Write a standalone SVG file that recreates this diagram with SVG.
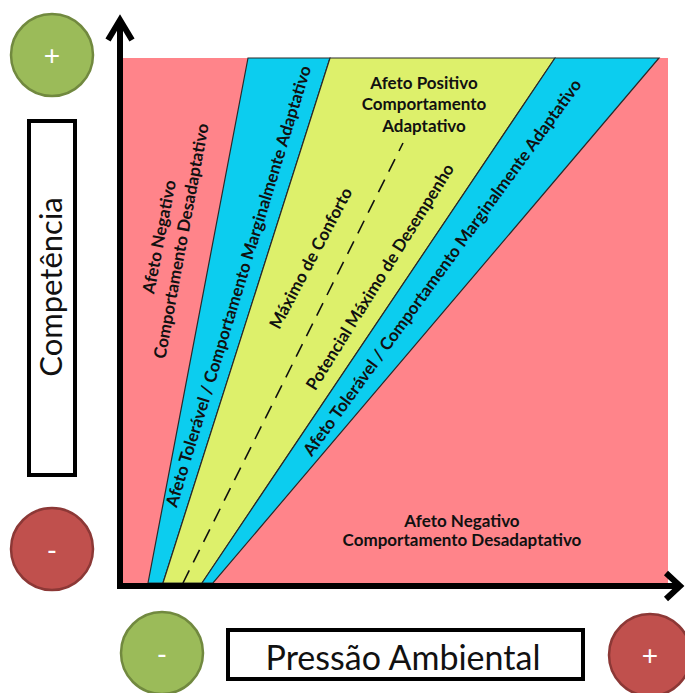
<svg xmlns="http://www.w3.org/2000/svg" width="685" height="693" viewBox="0 0 685 693">
<style>
.band{stroke:#2a2a2a;stroke-width:1.2}
.lbl{font-family:Lato,"Open Sans","Liberation Sans",sans-serif;font-weight:bold;font-size:17px;fill:#111;text-anchor:middle}
.big{font-family:Lato,"Open Sans","Liberation Sans",sans-serif;font-size:31px;fill:#111;text-anchor:middle}
.sign{font-family:"Liberation Sans",sans-serif;font-size:28px;fill:#fff;text-anchor:middle}
.box{fill:#fff;stroke:#000;stroke-width:4}
.axis{stroke:#000;stroke-width:6;fill:none}
</style>
<rect width="685" height="693" fill="#fff"/>
<g id="plot">
<rect x="122" y="58" width="546" height="525" fill="#FF848A"/>
<polygon class="band" points="148,583 248,58 330,58 163,583" fill="#0CCDEF"/>
<polygon class="band" points="163,583 330,58 555,58 202,583" fill="#DDF06B"/>
<polygon class="band" points="202,583 555,58 659,58 213,583" fill="#0CCDEF"/>
<line x1="183" y1="583" x2="403" y2="143" stroke="#111" stroke-width="1.6" stroke-dasharray="14,9"/>
</g>
<g id="labels">
<text class="lbl" transform="translate(165,238) rotate(-79)">Afeto Negativo</text>
<text class="lbl" transform="translate(187,242) rotate(-79.5)">Comportamento Desadaptativo</text>
<text class="lbl" transform="translate(244,288) rotate(-73)">Afeto Tolerável / Comportamento Marginalmente Adaptativo</text>
<text class="lbl" transform="translate(316,261) rotate(-62)">Máximo de Conforto</text>
<text class="lbl" transform="translate(385,280) rotate(-58)">Potencial Máximo de Desempenho</text>
<text class="lbl" transform="translate(447,271) rotate(-54)">Afeto Tolerável / Comportamento Marginalmente Adaptativo</text>
<text class="lbl" x="424" y="89">Afeto Positivo</text>
<text class="lbl" x="424" y="110">Comportamento</text>
<text class="lbl" x="424" y="132">Adaptativo</text>
<text class="lbl" x="462" y="527">Afeto Negativo</text>
<text class="lbl" x="462" y="546">Comportamento Desadaptativo</text>
</g>
<g id="axes">
<path class="axis" d="M120,20 V586 H680"/>
<path class="axis" d="M108,40 L120,20 L132,40"/>
<path class="axis" d="M666,573 L680,586 L666,599"/>
</g>
<g id="y-label">
<rect class="box" x="29" y="121" width="46" height="354"/>
<text class="big" transform="translate(62,287) rotate(-90)">Competência</text>
</g>
<g id="x-label">
<rect class="box" x="228" y="630" width="355" height="49"/>
<text class="big" x="403" y="670" style="font-size:34px">Pressão Ambiental</text>
</g>
<g id="c-top-plus">
<circle cx="52" cy="55" r="41" fill="#9BBB59" stroke="#71893F" stroke-width="2.5"/>
<text class="sign" x="52" y="65">+</text>
</g>
<g id="c-left-minus">
<circle cx="52" cy="549" r="41" fill="#C0504D" stroke="#8C3836" stroke-width="2.5"/>
<text class="sign" x="52" y="559">-</text>
</g>
<g id="c-bottom-minus">
<circle cx="162" cy="653" r="41" fill="#9BBB59" stroke="#71893F" stroke-width="2.5"/>
<text class="sign" x="162" y="663">-</text>
</g>
<g id="c-bottom-plus">
<circle cx="650" cy="655" r="41" fill="#C0504D" stroke="#8C3836" stroke-width="2.5"/>
<text class="sign" x="650" y="665">+</text>
</g>
</svg>
